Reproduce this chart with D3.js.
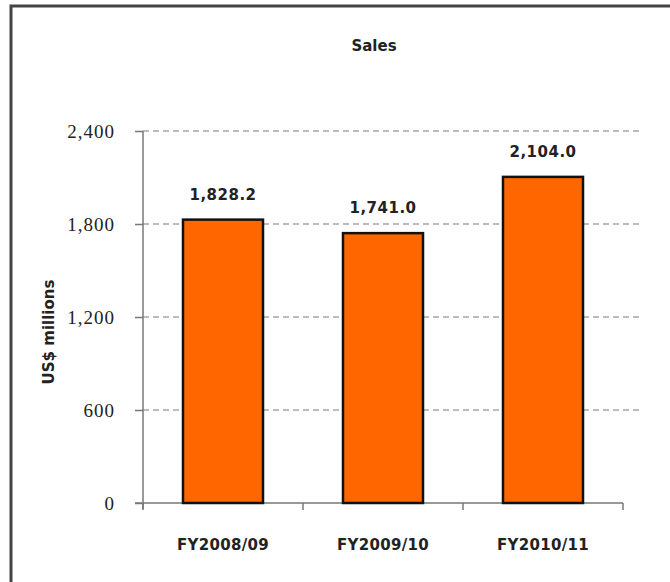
<!DOCTYPE html>
<html>
<head>
<meta charset="utf-8">
<script src="https://cdn.jsdelivr.net/npm/d3@7"></script>
<style>
  body { margin: 0; background: #fff; }
  svg { display: block; }
</style>
</head>
<body>
<div id="chart"></div>
<script>
var categories = ["FY2008/09", "FY2009/10", "FY2010/11"];
var sales = [1828.2, 1741.0, 2104.0];
var yTicks = [0, 600, 1200, 1800, 2400];

var width = 670, height = 582;
var plotLeft = 143, plotRight = 623, plotTop = 131, plotBottom = 503;

var svg = d3.select("#chart").append("svg")
  .attr("width", width)
  .attr("height", height);

// frame
svg.append("rect")
  .attr("x", 11).attr("y", 6)
  .attr("width", 700).attr("height", 620)
  .attr("fill", "#fff")
  .attr("stroke", "#444")
  .attr("stroke-width", 3);

var x = d3.scaleBand().domain(categories).range([plotLeft, plotRight]).paddingInner(0.5).paddingOuter(0.25);
var y = d3.scaleLinear().domain([0, 2400]).range([plotBottom, plotTop]);

// gridlines
svg.selectAll(".grid")
  .data(yTicks.filter(function(d) { return d > 0; }))
  .enter().append("line")
  .attr("class", "grid")
  .attr("x1", plotLeft).attr("x2", 640)
  .attr("y1", function(d) { return y(d); })
  .attr("y2", function(d) { return y(d); })
  .attr("stroke", "#a6a6a6")
  .attr("stroke-width", 1.5)
  .attr("stroke-dasharray", "6,4");

// y axis
var yAxis = svg.append("g")
  .attr("transform", "translate(" + plotLeft + ",0)")
  .call(d3.axisLeft(y).tickValues(yTicks).tickSize(8).tickPadding(20)
    .tickFormat(d3.format(",")));
yAxis.selectAll("line, path").attr("stroke", "#777").attr("stroke-width", 1.5);
yAxis.select(".domain").attr("d", "M0," + plotTop + "V" + (plotBottom + 6));
yAxis.selectAll("text")
  .attr("font-family", "Liberation Serif, serif")
  .attr("font-size", 19)
  .attr("letter-spacing", 1)
  .attr("fill", "#222");

// x axis
var xAxis = svg.append("g")
  .attr("transform", "translate(0," + plotBottom + ")");
xAxis.append("line")
  .attr("x1", plotLeft - 8).attr("x2", plotRight)
  .attr("stroke", "#777").attr("stroke-width", 1.5);
var bounds = [plotLeft].concat(categories.map(function(c) { return x(c) + x.bandwidth() + x.step() * x.paddingInner() / 2; }));
xAxis.selectAll(".xt")
  .data(bounds)
  .enter().append("line")
  .attr("x1", function(d) { return d; }).attr("x2", function(d) { return d; })
  .attr("y1", 0).attr("y2", 7)
  .attr("stroke", "#777").attr("stroke-width", 1.5);
xAxis.selectAll(".xl")
  .data(categories)
  .enter().append("text")
  .attr("x", function(d) { return x(d) + x.bandwidth() / 2; })
  .attr("y", 47)
  .attr("text-anchor", "middle")
  .attr("font-family", "DejaVu Sans, sans-serif")
  .attr("font-weight", "bold")
  .attr("font-size", 15)
  .attr("letter-spacing", 0.3)
  .attr("fill", "#222")
  .text(function(d) { return d; });

// bars
svg.selectAll(".bar")
  .data(sales)
  .enter().append("rect")
  .attr("class", "bar")
  .attr("x", function(d, i) { return x(categories[i]); })
  .attr("y", function(d) { return y(d); })
  .attr("width", x.bandwidth())
  .attr("height", function(d) { return plotBottom - y(d); })
  .attr("fill", "#ff6600")
  .attr("stroke", "#111")
  .attr("stroke-width", 2.5);

// value labels
svg.selectAll(".val")
  .data(sales)
  .enter().append("text")
  .attr("x", function(d, i) { return x(categories[i]) + x.bandwidth() / 2; })
  .attr("y", function(d) { return y(d) - 20; })
  .attr("text-anchor", "middle")
  .attr("font-family", "DejaVu Sans, sans-serif")
  .attr("font-weight", "bold")
  .attr("font-size", 15)
  .attr("letter-spacing", 0.5)
  .attr("fill", "#222")
  .text(function(d) { return d3.format(",.1f")(d); });

// title
svg.append("text")
  .attr("x", 374).attr("y", 51)
  .attr("text-anchor", "middle")
  .attr("font-family", "DejaVu Sans, sans-serif")
  .attr("font-weight", "bold")
  .attr("font-size", 15)
  .attr("fill", "#222")
  .text("Sales");

// y axis title
svg.append("text")
  .attr("transform", "translate(54,332) rotate(-90)")
  .attr("text-anchor", "middle")
  .attr("font-family", "DejaVu Sans, sans-serif")
  .attr("font-weight", "bold")
  .attr("font-size", 15)
  .attr("fill", "#222")
  .text("US$ millions");
</script>
</body>
</html>
